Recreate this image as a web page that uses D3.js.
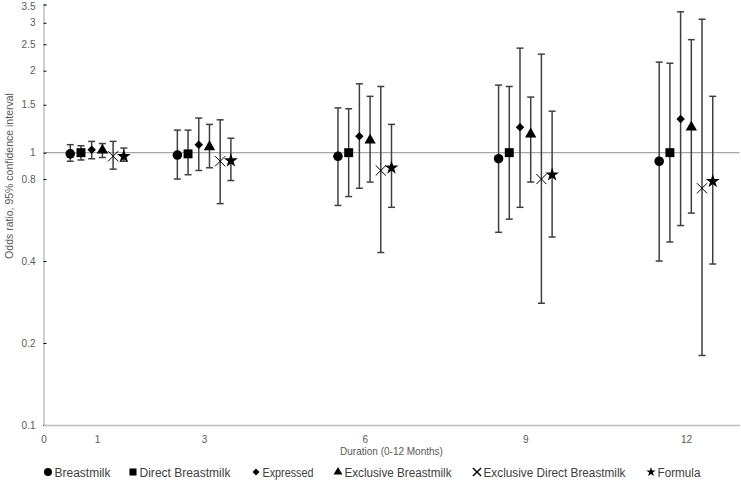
<!DOCTYPE html>
<html>
<head>
<meta charset="utf-8">
<script src="https://cdn.jsdelivr.net/npm/d3@7"></script>
<style>
  body { margin: 0; background: #fff; }
  text { font-family: "Liberation Sans", Arial, sans-serif; }
</style>
</head>
<body>
<svg id="chart" width="741" height="482"></svg>
<script>
// month groups and series
var months = [1, 3, 6, 9, 12];
var offsets = [-0.5, -0.3, -0.1, 0.1, 0.3, 0.5];
var seriesNames = ["Breastmilk", "Direct Breastmilk", "Expressed", "Exclusive Breastmilk", "Exclusive Direct Breastmilk", "Formula"];

// odds ratio, lower, upper for each month
var breastmilkOR = [0.99, 0.98, 0.97, 0.95, 0.93];
var breastmilkLo = [0.93, 0.80, 0.64, 0.51, 0.40];
var breastmilkHi = [1.07, 1.21, 1.46, 1.77, 2.15];

var directOR = [1.00, 0.99, 1.00, 1.00, 1.00];
var directLo = [0.94, 0.83, 0.69, 0.57, 0.47];
var directHi = [1.06, 1.21, 1.45, 1.75, 2.13];

var expressedOR = [1.025, 1.07, 1.15, 1.24, 1.33];
var expressedLo = [0.95, 0.86, 0.74, 0.63, 0.54];
var expressedHi = [1.10, 1.34, 1.79, 2.42, 3.29];

var exclusiveOR = [1.02, 1.05, 1.11, 1.17, 1.24];
var exclusiveLo = [0.96, 0.88, 0.78, 0.78, 0.60];
var exclusiveHi = [1.08, 1.27, 1.61, 1.60, 2.60];

var exclDirectOR = [0.97, 0.93, 0.86, 0.80, 0.74];
var exclDirectLo = [0.87, 0.65, 0.43, 0.28, 0.18];
var exclDirectHi = [1.10, 1.32, 1.75, 2.30, 3.09];

var formulaOR = [0.97, 0.935, 0.88, 0.83, 0.785];
var formulaLo = [0.93, 0.79, 0.63, 0.49, 0.39];
var formulaHi = [1.04, 1.13, 1.27, 1.42, 1.61];

var yTicks = [0.1, 0.2, 0.4, 0.8, 1, 1.5, 2, 2.5, 3, 3.5];
var xTicks = [0, 1, 3, 6, 9, 12];

var svg = d3.select("#chart");

var xScale = d3.scaleLinear().domain([0, 13]).range([43.5, 739.5]);
var yScale = d3.scaleLog().domain([0.1, 3.5]).range([425, 4.5]);

var allSeries = [
  [breastmilkOR, breastmilkLo, breastmilkHi],
  [directOR, directLo, directHi],
  [expressedOR, expressedLo, expressedHi],
  [exclusiveOR, exclusiveLo, exclusiveHi],
  [exclDirectOR, exclDirectLo, exclDirectHi],
  [formulaOR, formulaLo, formulaHi]
];

// diamond = square turned 45 degrees
var symbols = [
  d3.symbol().type(d3.symbolCircle).size(72),
  d3.symbol().type(d3.symbolSquare).size(80),
  d3.symbol().type(d3.symbolSquare).size(36),
  d3.symbol().type(d3.symbolTriangle).size(56),
  d3.symbol().type(d3.symbolX).size(70),
  d3.symbol().type(d3.symbolStar).size(60)
];
var rot = [0, 0, 45, 0, 0, 0];

// reference line at 1
svg.append("line")
  .attr("x1", xScale(0)).attr("x2", xScale(13))
  .attr("y1", yScale(1)).attr("y2", yScale(1))
  .attr("stroke", "#a6a6a6").attr("stroke-width", 1.3);

// y axis
var yAxis = svg.append("g")
  .attr("transform", "translate(" + xScale(0) + ",0)")
  .call(d3.axisRight(yScale).tickValues(yTicks).tickSize(3).tickFormat(d3.format("")));
yAxis.select(".domain").attr("stroke", "#bfbfbf").attr("stroke-width", 1.5);
yAxis.selectAll(".tick line").attr("stroke", "#000");
yAxis.selectAll(".tick text")
  .attr("x", -8).attr("text-anchor", "end")
  .attr("font-size", 10).attr("fill", "#595959");
yAxis.selectAll(".tick").filter(d => d == 3.5).select("text").attr("dy", "0.5em");

// x axis
var xAxis = svg.append("g")
  .attr("transform", "translate(0," + yScale(0.1) + ")")
  .call(d3.axisBottom(xScale).tickValues(xTicks).tickSize(0).tickFormat(d3.format("d")));
xAxis.select(".domain").attr("stroke", "#bfbfbf").attr("stroke-width", 1.5);
xAxis.selectAll(".tick text")
  .attr("y", 11).attr("font-size", 10).attr("fill", "#595959");

// axis titles
svg.append("text")
  .attr("transform", "translate(13," + 176 + ") rotate(-90)")
  .attr("text-anchor", "middle").attr("font-size", 10.5).attr("fill", "#595959")
  .text("Odds ratio, 95% confidence interval");

svg.append("text")
  .attr("x", (xScale(0) + xScale(13)) / 2).attr("y", 455)
  .attr("text-anchor", "middle").attr("font-size", 10).attr("fill", "#595959")
  .text("Duration (0-12 Months)");

// error bars and markers
allSeries.forEach(function(s, i) {
  var g = svg.append("g");
  months.forEach(function(m, j) {
    var x = xScale(m + offsets[i]);
    var y0 = yScale(s[1][j]), y1 = yScale(s[2][j]);
    g.append("line").attr("x1", x).attr("x2", x).attr("y1", y0).attr("y2", y1)
      .attr("stroke", "#404040").attr("stroke-width", 1.5);
    [y0, y1].forEach(function(yc) {
      g.append("line").attr("x1", x - 3.5).attr("x2", x + 3.5).attr("y1", yc).attr("y2", yc)
        .attr("stroke", "#404040").attr("stroke-width", 1.5);
    });
  });
  months.forEach(function(m, j) {
    var p = g.append("path")
      .attr("d", symbols[i]())
      .attr("transform", "translate(" + xScale(m + offsets[i]) + "," + yScale(s[0][j]) + ") rotate(" + rot[i] + ")");
    if (i == 4) p.attr("fill", "none").attr("stroke", "#000").attr("stroke-width", 1);
    else p.attr("fill", "#000");
  });
});

// legend
var legendX = [48, 133, 256, 338, 477, 651];
var legendW = [56, 91, 51, 107, 142, 43];
var legendSizes = [50, 50, 24, 34, 45, 28];
seriesNames.forEach(function(name, i) {
  var lg = svg.append("g").attr("transform", "translate(" + legendX[i] + ",472)");
  var p = lg.append("path")
    .attr("d", symbols[i].size(legendSizes[i])())
    .attr("transform", "rotate(" + rot[i] + ")");
  if (i == 4) p.attr("fill", "none").attr("stroke", "#000").attr("stroke-width", 1.4);
  else p.attr("fill", "#000");
  lg.append("text").attr("x", 6.5).attr("y", 4.5)
    .attr("font-size", 12).attr("fill", "#404040")
    .attr("textLength", legendW[i]).attr("lengthAdjust", "spacingAndGlyphs")
    .text(name);
});
</script>
</body>
</html>
